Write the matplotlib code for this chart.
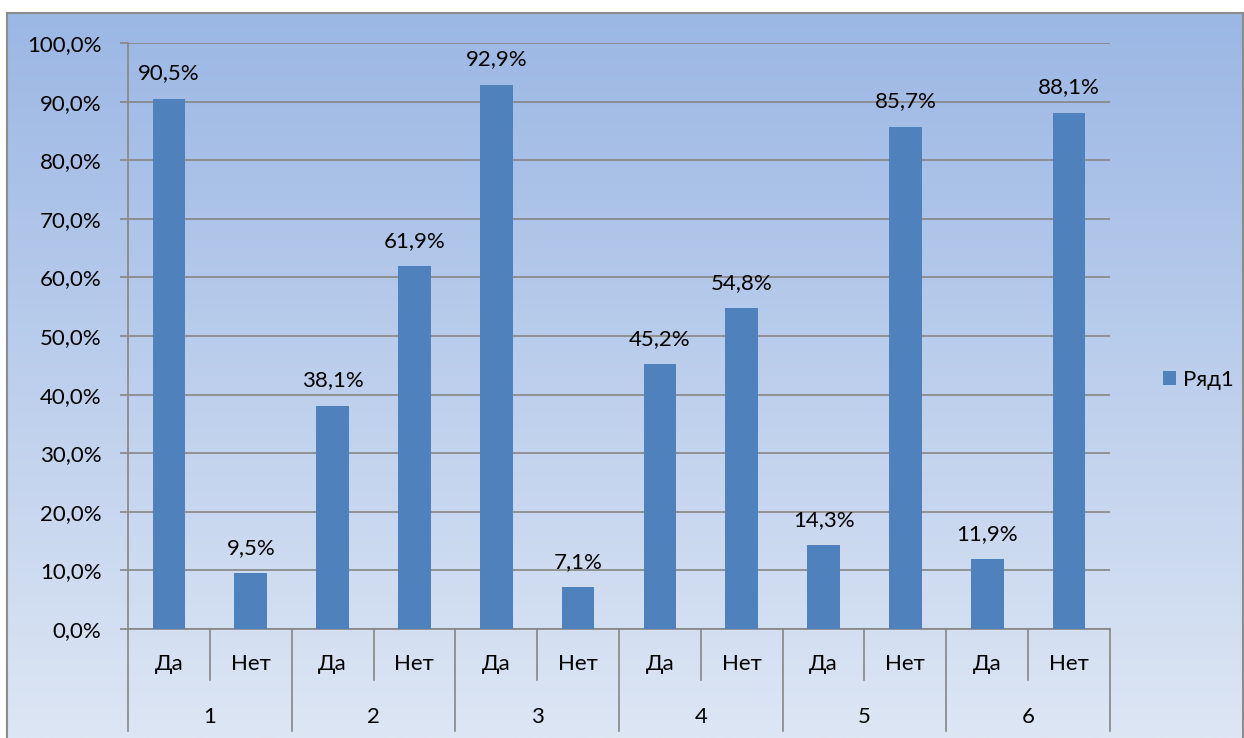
import numpy as np
import matplotlib
matplotlib.use("Agg")
import matplotlib.pyplot as plt
from matplotlib.ticker import FuncFormatter, MultipleLocator

plt.rcParams['font.family'] = ['Lato', 'DejaVu Sans']

groups = ["1", "2", "3", "4", "5", "6"]
answers = ["Да", "Нет"]
values = [90.5, 9.5, 38.1, 61.9, 92.9, 7.1, 45.2, 54.8, 14.3, 85.7, 11.9, 88.1]
series_name = "Ряд1"

bar_color = "#4f81bd"
grid_color = "#868686"
fs = 16

W, H = 1244, 738
fig = plt.figure(figsize=(W / 100, H / 100), dpi=100)
fig.patch.set_facecolor("white")

# gradient background with frame
bg = fig.add_axes([7 / W, 0, (1243 - 7) / W, (H - 13) / H], zorder=0)
grad = np.linspace(0, 1, 256).reshape(-1, 1)
top = np.array([155, 183, 228]) / 255
bot = np.array([221, 230, 244]) / 255
img = top + (bot - top) * grad[:, :, None] * np.ones((1, 1, 3))
bg.imshow(img, aspect="auto", extent=[0, 1, 0, 1])
bg.set_xlim(0, 1)
bg.set_ylim(0, 1)
bg.set_xticks([])
bg.set_yticks([])
for s in bg.spines.values():
    s.set_color("#8c8c8c")
    s.set_linewidth(1.5)
bg.spines["bottom"].set_visible(False)

ax = fig.add_axes([128 / W, 1 - 629 / H, (1110 - 128) / W, (629 - 43) / H], zorder=1)
ax.patch.set_alpha(0)

x = np.arange(len(values))
bars = ax.bar(x, values, width=0.4, color=bar_color, zorder=3, label=series_name)

for xi, v in zip(x, values):
    ax.text(xi, v + 2.6, f"{v:.1f}%".replace(".", ","), ha="center", va="bottom",
            fontsize=fs, color="black", zorder=4)

ax.set_xlim(-0.5, len(values) - 0.5)
ax.set_ylim(0, 100)
ax.yaxis.set_major_locator(MultipleLocator(10))
ax.yaxis.set_major_formatter(FuncFormatter(lambda v, p: f"{v:.1f}%".replace(".", ",")))
ax.yaxis.grid(True, color=grid_color, linewidth=1.2, zorder=1)
ax.tick_params(axis="y", length=6, width=1.2, color=grid_color, labelsize=fs, pad=13)
ax.set_xticks([])
for side in ["top", "right", "bottom"]:
    ax.spines[side].set_visible(False)
ax.spines["left"].set_color(grid_color)
ax.spines["left"].set_linewidth(1.2)
ax.axhline(0, color=grid_color, linewidth=1.2, zorder=2, clip_on=False)

# multi-level category axis
tr = ax.get_xaxis_transform()
sub_bottom = -51 / 586
grp_bottom = -102 / 586
for i in range(len(groups) + 1):
    xb = 2 * i - 0.5
    ax.plot([xb, xb], [0, grp_bottom], transform=tr, color=grid_color,
            linewidth=1.2, clip_on=False)
for i in range(len(groups)):
    xb = 2 * i + 0.5
    ax.plot([xb, xb], [0, sub_bottom], transform=tr, color=grid_color,
            linewidth=1.2, clip_on=False)
for i, g in enumerate(groups):
    for j, a in enumerate(answers):
        ax.text(2 * i + j, -35 / 586, a, transform=tr, ha="center", va="center",
                fontsize=fs)
    ax.text(2 * i + 0.5, -88 / 586, g, transform=tr, ha="center", va="center",
            fontsize=fs)

leg = fig.legend(handles=[bars], labels=[series_name], loc="center left",
                 bbox_to_anchor=(1143 / W, 1 - 380 / H), frameon=False,
                 fontsize=fs, handlelength=0.6, handleheight=0.6,
                 handletextpad=0.3)

fig.savefig("out.png", dpi=100)
